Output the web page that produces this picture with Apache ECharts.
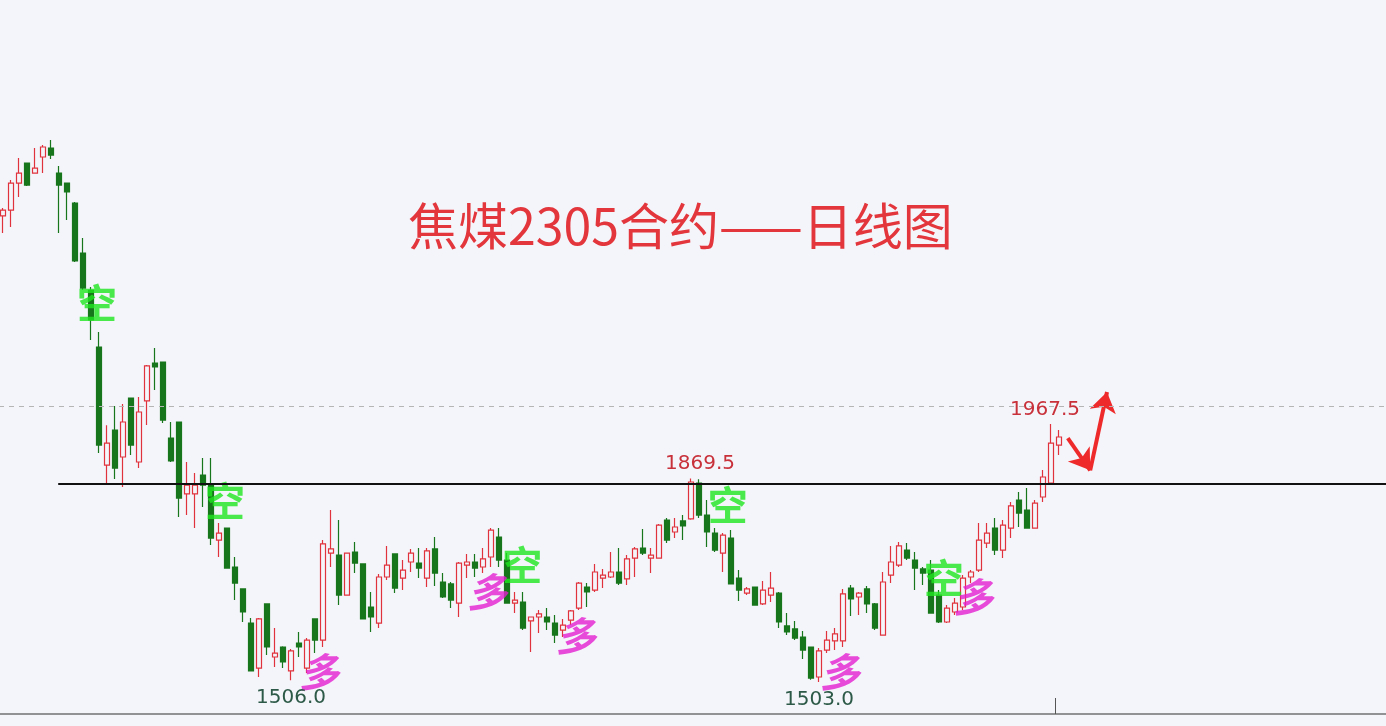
<!DOCTYPE html>
<html><head><meta charset="utf-8">
<script src="https://cdn.jsdelivr.net/npm/echarts@6/dist/echarts.min.js"></script>
<style>html,body{margin:0;padding:0;background:#f4f5fa;}#c{width:1386px;height:726px;}</style>
</head><body><div id="c"></div>
<script>
// Daily OHLC of 焦煤2305
const opens = [2342,2352.5,2401,2437,2419,2448,2464,2419,2401,2365,2275,2208,2106,1893.5,1956.5,1908,2014,1899,2009,2077,2079,1942,1971,1841.5,1841.5,1875.5,1857.5,1758.5,1780,1710,1670.5,1609,1528,1643.5,1548,1566,1523,1573,1528,1616.5,1578.5,1735,1731.5,1659.5,1737,1715.5,1638,1609,1692,1733.5,1690,1719,1717,1690,1742.5,1683,1679.5,1645,1713.5,1719,1710,1728,1764,1722.5,1645,1647,1613,1620,1620,1609,1596.5,1614.5,1636,1674,1668.5,1690,1692,1701,1688.5,1726,1744,1726,1726,1794.5,1773,1793,1796.5,1861,1803.5,1771,1735,1762,1690,1663,1674,1643.5,1659.5,1663,1604,1598.5,1584,1566,1512,1560.5,1577,1577,1672,1656,1670.5,1643.5,1587.5,1695.5,1713.5,1740.5,1722.5,1706.5,1704.5,1659.5,1611,1629,1638,1692,1704.5,1753,1780,1740.5,1780,1830.5,1812.5,1780,1836,1861,1929.5];
const closes = [2352.5,2401,2419,2397.5,2428,2466,2451.5,2397.5,2385,2261,2212,2155,1929.5,1933,1888,1971,1929.5,1989,2072,2070,1974.5,1901,1834,1857.5,1857.5,1857.5,1762,1771,1708,1681,1629,1523,1616.5,1566,1555,1539,1559,1566,1578.5,1578.5,1751.5,1742.5,1659.5,1735,1717,1616.5,1620,1692,1713.5,1672,1704.5,1735,1708,1739,1699,1656,1650.5,1717,1719,1708,1724.5,1776.5,1722.5,1645,1650.5,1600,1620,1625.5,1611,1587.5,1605.5,1631,1681,1665,1701,1695.5,1701,1681,1724.5,1742.5,1735,1731.5,1785.5,1758.5,1782,1784,1863,1803.5,1773,1740.5,1767.5,1679.5,1668.5,1670.5,1641.5,1668.5,1672,1611,1593,1582,1560.5,1510,1559,1578.5,1589.5,1661.5,1652.5,1663,1643.5,1600,1683,1719,1748,1726,1708,1699,1627,1611,1636,1645,1690,1701,1758.5,1771,1740.5,1785.5,1820,1807,1780,1825,1872,1933,1944];
const lows = [2311,2322,2376,2396,2419,2419,2444.5,2311,2334.5,2259,2208.5,2118.5,1915,1857.5,1868.5,1854,1911.5,1888,1965.5,2028.5,1969,1899,1800,1803.5,1780,1818,1749.5,1728,1707,1650.5,1611,1522,1512,1551.5,1530,1528,1506,1548,1519,1555,1566,1710,1641.5,1659,1699,1616,1593,1600,1686.5,1663,1668.5,1701,1690,1674,1676,1654,1636,1620,1690,1692,1699,1710,1710,1644,1627,1596.5,1557,1591,1596.5,1573,1584,1605.5,1632.5,1638,1665,1672,1690,1677.5,1677.5,1692,1731.5,1699,1725,1753,1762,1758.5,1795,1798,1746,1737,1701,1679,1649,1659.5,1641,1641.5,1647,1600,1587.5,1578.5,1544.5,1507,1503,1555,1560.5,1566,1622,1623.5,1627,1596.5,1587,1681,1710,1722.5,1668.5,1677.5,1626.5,1609,1609,1623.5,1632.5,1681,1701,1744,1731.5,1726,1762,1782,1779.5,1779.5,1827,1857.5,1911.5];
const highs = [2356,2406.5,2446,2437,2464,2469.5,2478.5,2432,2401,2367,2302,2214,2133,1965,2000,2003.5,2014,2016,2073.5,2104,2079,1971,1971,1899,1879,1906,1906,1789,1781,1728,1671,1618,1618,1644,1600,1567.5,1562.5,1593,1582,1617,1758.5,1812.5,1794.5,1736,1755,1716,1665,1697.5,1748,1734,1722.5,1742.5,1744,1744,1764,1699,1683,1719,1733.5,1733.5,1744,1780,1780,1735,1665,1665,1620.5,1632.5,1636,1623.5,1616.5,1632.5,1683,1681,1715.5,1706.5,1737,1744,1731.5,1746,1778.5,1744,1787.5,1798,1798,1803.5,1869.5,1868,1830.5,1780,1771,1776.5,1704.5,1674,1674.5,1685,1701,1665,1627,1613,1595,1567,1564,1595,1600,1670.5,1677.5,1665,1676,1645,1701,1748,1755,1753,1737,1710,1722.5,1668.5,1641.5,1654,1695.5,1704.5,1789,1789,1798,1794.5,1827,1845,1852,1830.5,1884.5,1967.5,1956.5];
const totalDays = 175; // trading-day slots on the axis (the last few run past the picture)
const categories = Array.from({length: totalDays}, (_, i) => 'D' + (i + 1));
const resistanceLevel = 1860;
const dashedLevel = 2000;
// annotations: [text, day position, price]
const shortMarks = [['空', 11.75, 2185], ['空', 27.75, 1830], ['空', 64.9, 1714], ['空', 90.6, 1822], ['空', 117.6, 1690]];
const longMarks = [['多', 39.5, 1521], ['多', 60.5, 1665], ['多', 71.6, 1586], ['多', 104.6, 1521], ['多', 121.25, 1656]];
// price labels: [day index, 'high'|'low', dx, dy]
const priceLabels = [[86, 'high', 9, -15], [131, 'high', -6, -14], [36, 'low', 0, 17], [102, 'low', 0, 18]];
// arrow path points: [day position, price]
const arrowPts = [[133.1, 1942], [135.9, 1884], [138.0, 2025]];

const kData = opens.map((o, i) => [o, closes[i], lows[i], highs[i]]);
const BG = '#f4f5fa';
const RED = '#e0323c';
const GREEN = '#17751b';
const lastIdx = opens.length - 1;

const chart = echarts.init(document.getElementById('c'));
chart.setOption({
  backgroundColor: BG,
  animation: false,
  title: {
    text: '焦煤2305合约——日线图', left: 403, top: 196,
    textStyle: {color: '#e2363c', fontSize: 50, fontWeight: 'normal', fontFamily: 'Noto Sans CJK SC'}
  },
  grid: {left: -1, width: totalDays * 8, top: 0, bottom: 12, containLabel: false, outerBoundsMode: 'none'},
  xAxis: [{
    type: 'category', data: categories, boundaryGap: true,
    axisLine: {show: true, lineStyle: {color: '#707070', width: 1.5}},
    axisTick: {show: true, inside: true, length: 16, interval: (i) => i === lastIdx || i === totalDays - 1, lineStyle: {color: '#555'}},
    axisLabel: {show: false}, splitLine: {show: false}
  }, {
    type: 'value', min: -0.5, max: totalDays - 0.5, show: false
  }],
  yAxis: {type: 'value', min: 1445.4, max: 2730.6, show: false, splitLine: {show: false}},
  series: [{
    type: 'candlestick', data: kData, barWidth: 6,
    itemStyle: {color: BG, color0: GREEN, borderColor: RED, borderColor0: GREEN, borderWidth: 1.2},
    markPoint: {
      symbol: 'circle', symbolSize: 0,
      data: priceLabels.map(([idx, kind, dx, dy]) => {
        const v = kind === 'high' ? highs[idx] : lows[idx];
        return {
          coord: [idx, v], value: v,
          label: {
            show: true, position: 'inside', offset: [dx, dy], formatter: v.toFixed(1),
            fontFamily: 'DejaVu Sans', fontSize: 20,
            color: kind === 'high' ? '#c8303a' : '#2d5a48'
          }
        };
      })
    }
  }, {
    type: 'scatter', xAxisIndex: 1, symbolSize: 1, itemStyle: {color: 'transparent'}, silent: true,
    data: shortMarks.map(([t, x, y]) => ({value: [x, y], name: t})),
    label: {show: true, position: 'inside', formatter: p => p.name, color: '#1fe61f',
      fontSize: 40, fontFamily: 'Noto Sans CJK SC', fontWeight: 'bold'},
    markLine: {
      silent: true, symbol: ['none', 'none'], label: {show: false},
      data: [
        [{coord: [6.9, resistanceLevel], lineStyle: {color: '#111', width: 2, type: 'solid'}}, {coord: [totalDays - 0.5, resistanceLevel]}],
        [{coord: [-0.5, dashedLevel], lineStyle: {color: '#b5b5b5', width: 1, type: [5, 5]}}, {coord: [totalDays - 0.5, dashedLevel]}]
      ]
    }
  }, {
    type: 'scatter', xAxisIndex: 1, symbolSize: 1, itemStyle: {color: 'transparent'}, silent: true,
    data: longMarks.map(([t, x, y]) => ({value: [x, y], name: t})),
    label: {show: true, position: 'inside', formatter: p => p.name, color: '#e41fd0',
      fontSize: 40, fontStyle: 'italic', fontWeight: 'bold', fontFamily: 'Noto Sans CJK SC'}
  }, {
    type: 'lines', coordinateSystem: 'cartesian2d', xAxisIndex: 1, silent: true,
    symbol: ['none', 'arrow'], symbolSize: 20,
    lineStyle: {color: '#ee2a2a', width: 4, opacity: 1, curveness: 0},
    data: [{coords: [arrowPts[0], arrowPts[1]]}, {coords: [arrowPts[1], arrowPts[2]]}]
  }]
});
</script></body></html>
